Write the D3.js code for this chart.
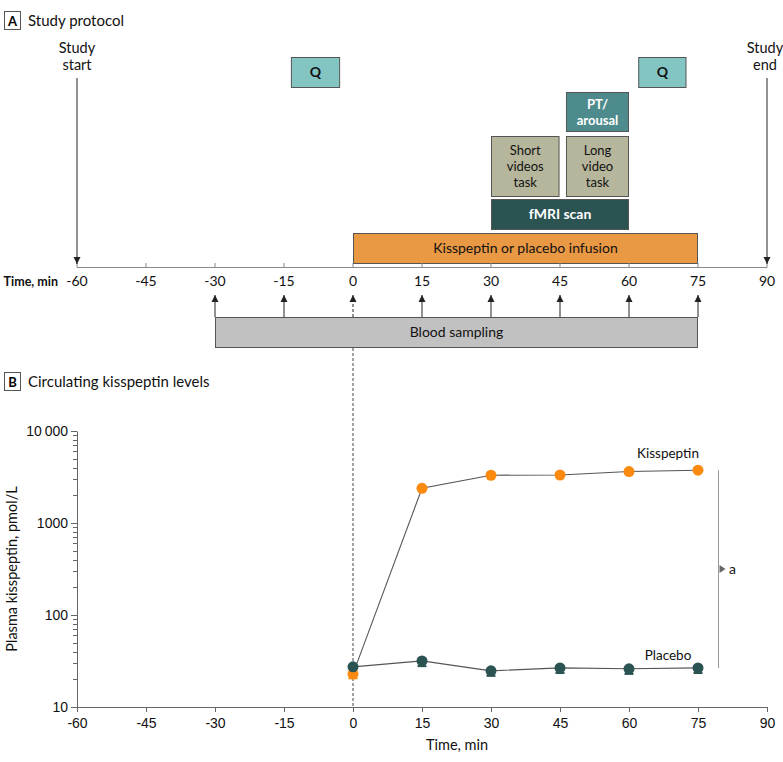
<!DOCTYPE html>
<html><head><meta charset="utf-8">
<script src="https://cdn.jsdelivr.net/npm/d3@7"></script>
<style>
body{margin:0;background:#fff;}
svg{display:block;font-family:"Lato","Liberation Sans",sans-serif;}
</style></head>
<body><svg id="c" width="783" height="762"></svg>
<script>
// ---------- DATA ----------
const timeTicks = [-60,-45,-30,-15,0,15,30,45,60,75,90];
const sampleTimes = [-30,-15,0,15,30,45,60,75];
// protocol boxes: label lines, start, end (min)
const boxLabels = [["Q"],["Q"],["PT/","arousal"],["Short","videos","task"],["Long","video","task"],["fMRI scan"],["Kisspeptin or placebo infusion"],["Blood sampling"]];
const boxStart  = [-13.5, 62, 46.3, 30, 46.3, 30, 0, -30];
const boxEnd    = [-2.8, 72.5, 60, 44.9, 60, 60, 75, 75];
const boxRow    = ["q","q","pt","task","task","fmri","inf","blood"];
const boxFill   = ["#82c5c3","#82c5c3","#4e8b8c","#b6b69c","#b6b69c","#2a5352","#e99843","#c1c1c1"];
const boxText   = ["#111","#111","#fff","#111","#111","#fff","#111","#111"];
const boxBold   = [true,true,true,false,false,true,false,false];

const sampleT = [0,15,30,45,60,75];
const kissVals  = [22.9, 2385, 3305, 3325, 3623, 3749];
const kissLo    = [20.5, 2385, 3305, 3325, 3623, 3749];
const kissHi    = [22.9, 2385, 3305, 3520, 3623, 3749];
const placVals  = [27.3, 31.7, 24.7, 26.6, 26.0, 26.6];
const placLo    = [27.3, 27.8, 21.8, 23.4, 22.9, 23.4];
const placHi    = [27.3, 31.7, 24.7, 26.6, 26.0, 26.6];
const yTicks = [10,100,1000,10000];

// ---------- LAYOUT ----------
const svg = d3.select("#c");
const x = d3.scaleLinear().domain([-60,90]).range([77,767]);
const rows = {q:[57,88],pt:[92,132],task:[136,197],fmri:[199,230],inf:[233,264],blood:[317,348]};
const axisY = 267;
const FS = 13.5;

// Panel header
function header(letter, title, y){
  svg.append("rect").attr("x",4.5).attr("y",y-9.5).attr("width",16).attr("height",18).attr("fill","#fff").attr("stroke","#555");
  svg.append("text").attr("x",12.5).attr("y",y+4.5).attr("text-anchor","middle").attr("font-weight","bold").attr("font-size",13).text(letter);
  svg.append("text").attr("x",28).attr("y",y+5).attr("font-size",15).attr("fill","#111").text(title);
}
header("A","Study protocol",21);
header("B","Circulating kisspeptin levels",382);

// arrow marker
const defs = svg.append("defs");
defs.append("marker").attr("id","ah").attr("viewBox","0 0 10 10").attr("refX",10).attr("refY",5)
  .attr("markerWidth",7).attr("markerHeight",9).attr("markerUnits","userSpaceOnUse").attr("orient","auto")
  .append("path").attr("d","M0,0L10,5L0,10Z").attr("fill","#222");

// dashed zero line (through panel B)
svg.append("line").attr("x1",x(0)).attr("x2",x(0)).attr("y1",348).attr("y2",707)
  .attr("stroke","#444").attr("stroke-dasharray","3,2").attr("stroke-width",1);

// boxes
boxLabels.forEach((lab,i)=>{
  const r = rows[boxRow[i]];
  const x0 = x(boxStart[i]), x1 = x(boxEnd[i]);
  svg.append("rect").attr("x",x0+0.5).attr("y",r[0]+0.5).attr("width",x1-x0-1).attr("height",r[1]-r[0]-1)
    .attr("fill",boxFill[i]).attr("stroke","#555").attr("stroke-width",1);
  const cy = (r[0]+r[1])/2, lh = 16;
  const fs = lab.length>1 ? 13 : FS+0.5;
  lab.forEach((t,j)=>{
    svg.append("text").attr("x",(x0+x1)/2).attr("y",cy+(j-(lab.length-1)/2)*lh+4.8)
      .attr("text-anchor","middle").attr("font-size",fs).attr("fill",boxText[i])
      .attr("font-weight",boxBold[i]?"bold":"normal").text(t);
  });
});

// top axis
svg.append("line").attr("x1",x(-60)).attr("x2",x(90)).attr("y1",axisY+0.5).attr("y2",axisY+0.5).attr("stroke","#888");
timeTicks.forEach(t=>{
  svg.append("line").attr("x1",x(t)).attr("x2",x(t)).attr("y1",axisY-4).attr("y2",axisY+0.5).attr("stroke","#888");
  svg.append("text").attr("x",x(t)).attr("y",axisY+19).attr("text-anchor","middle").attr("font-size",FS+0.5).attr("fill","#111").text(String(t));
});
svg.append("text").attr("x",58).attr("y",axisY+19).attr("text-anchor","end").attr("font-size",12.5).attr("font-weight","bold").attr("fill","#111").text("Time, min");

// study start/end
[["Study","start",-60,0],["Study","end",90,-2]].forEach(d=>{
  svg.append("text").attr("x",x(d[2])+d[3]).attr("y",53).attr("text-anchor","middle").attr("font-size",14.5).attr("fill","#111").text(d[0]);
  svg.append("text").attr("x",x(d[2])+d[3]).attr("y",70).attr("text-anchor","middle").attr("font-size",14.5).attr("fill","#111").text(d[1]);
  svg.append("line").attr("x1",x(d[2])).attr("x2",x(d[2])).attr("y1",78).attr("y2",264).attr("stroke","#222").attr("marker-end","url(#ah)");
});

// sampling arrows
sampleTimes.forEach(t=>{
  svg.append("line").attr("x1",x(t)).attr("x2",x(t)).attr("y1",rows.blood[0]).attr("y2",295)
    .attr("stroke","#222").attr("stroke-dasharray",t===0?"3,2":null).attr("marker-end","url(#ah)");
});

// ---------- PANEL B ----------
const y = d3.scaleLog().domain([10,10000]).range([707,431]);
const gx = svg.append("g").attr("transform","translate(0,707)")
  .call(d3.axisBottom(x).tickValues(timeTicks).tickFormat(d=>String(d)).tickSize(5).tickSizeOuter(0));
gx.select(".domain").attr("stroke","#666");
gx.selectAll(".tick line").attr("stroke","#666");
gx.selectAll("text").attr("font-size",FS+0.5).attr("fill","#111").attr("font-family","inherit").attr("dy","0.9em");

const minor = [];
for(let d=10; d<10000; d*=10) for(let k=2;k<=9;k++) minor.push(d*k);
const gy = svg.append("g").attr("transform","translate(77,0)")
  .call(d3.axisLeft(y).tickValues(yTicks).tickFormat(d=>d===10000?"10\u2009000":String(d)).tickSize(6).tickSizeOuter(0));
gy.select(".domain").attr("stroke","#666");
gy.selectAll(".tick line").attr("stroke","#666");
gy.selectAll("text").attr("font-size",FS+0.5).attr("fill","#111").attr("font-family","inherit");
svg.append("g").selectAll("line").data(minor).join("line")
  .attr("x1",73).attr("x2",77).attr("y1",d=>Math.round(y(d))+0.5).attr("y2",d=>Math.round(y(d))+0.5).attr("stroke","#666");

svg.append("text").attr("transform",`translate(17,${(431+707)/2}) rotate(-90)`).attr("text-anchor","middle")
  .attr("font-size",14.5).attr("fill","#111").text("Plasma kisspeptin, pmol/L");
svg.append("text").attr("x",457).attr("y",750).attr("text-anchor","middle").attr("font-size",14.5).attr("fill","#111").text("Time, min");

// lines
const line = d3.line().x((d,i)=>x(sampleT[i])).y(d=>y(d));
svg.append("path").attr("d",line(kissVals)).attr("fill","none").attr("stroke","#555").attr("stroke-width",1.1);
svg.append("path").attr("d",line(placVals)).attr("fill","none").attr("stroke","#555").attr("stroke-width",1.1);

function series(vals,lo,hi,col){
  const g = svg.append("g");
  vals.forEach((v,i)=>{
    const cx = x(sampleT[i]);
    [lo[i],hi[i]].forEach(e=>{
      if(e!==v){
        g.append("line").attr("x1",cx).attr("x2",cx).attr("y1",y(v)).attr("y2",y(e)).attr("stroke",col).attr("stroke-width",1.5);
        g.append("line").attr("x1",cx-4.5).attr("x2",cx+4.5).attr("y1",y(e)).attr("y2",y(e)).attr("stroke",col).attr("stroke-width",2);
      }
    });
    g.append("circle").attr("cx",cx).attr("cy",y(v)).attr("r",5.5).attr("fill",col);
  });
}
series(kissVals,kissLo,kissHi,"#fb8a0e");
series(placVals,placLo,placHi,"#2a5352");

svg.append("text").attr("x",668).attr("y",458).attr("text-anchor","middle").attr("font-size",FS).attr("fill","#111").text("Kisspeptin");
svg.append("text").attr("x",668).attr("y",660).attr("text-anchor","middle").attr("font-size",FS).attr("fill","#111").text("Placebo");

// significance bracket
const bx = 718.5, bTop = y(kissVals[5]), bBot = y(placVals[5]), bMid = 569;
svg.append("line").attr("x1",bx).attr("x2",bx).attr("y1",bTop).attr("y2",bBot).attr("stroke","#999").attr("stroke-width",1);
svg.append("path").attr("d",`M${bx+1},${bMid-4}L${bx+7},${bMid}L${bx+1},${bMid+4}Z`).attr("fill","#666");
svg.append("text").attr("x",729).attr("y",bMid+4.5).attr("font-size",FS+0.5).attr("fill","#111").text("a");
</script></body></html>
